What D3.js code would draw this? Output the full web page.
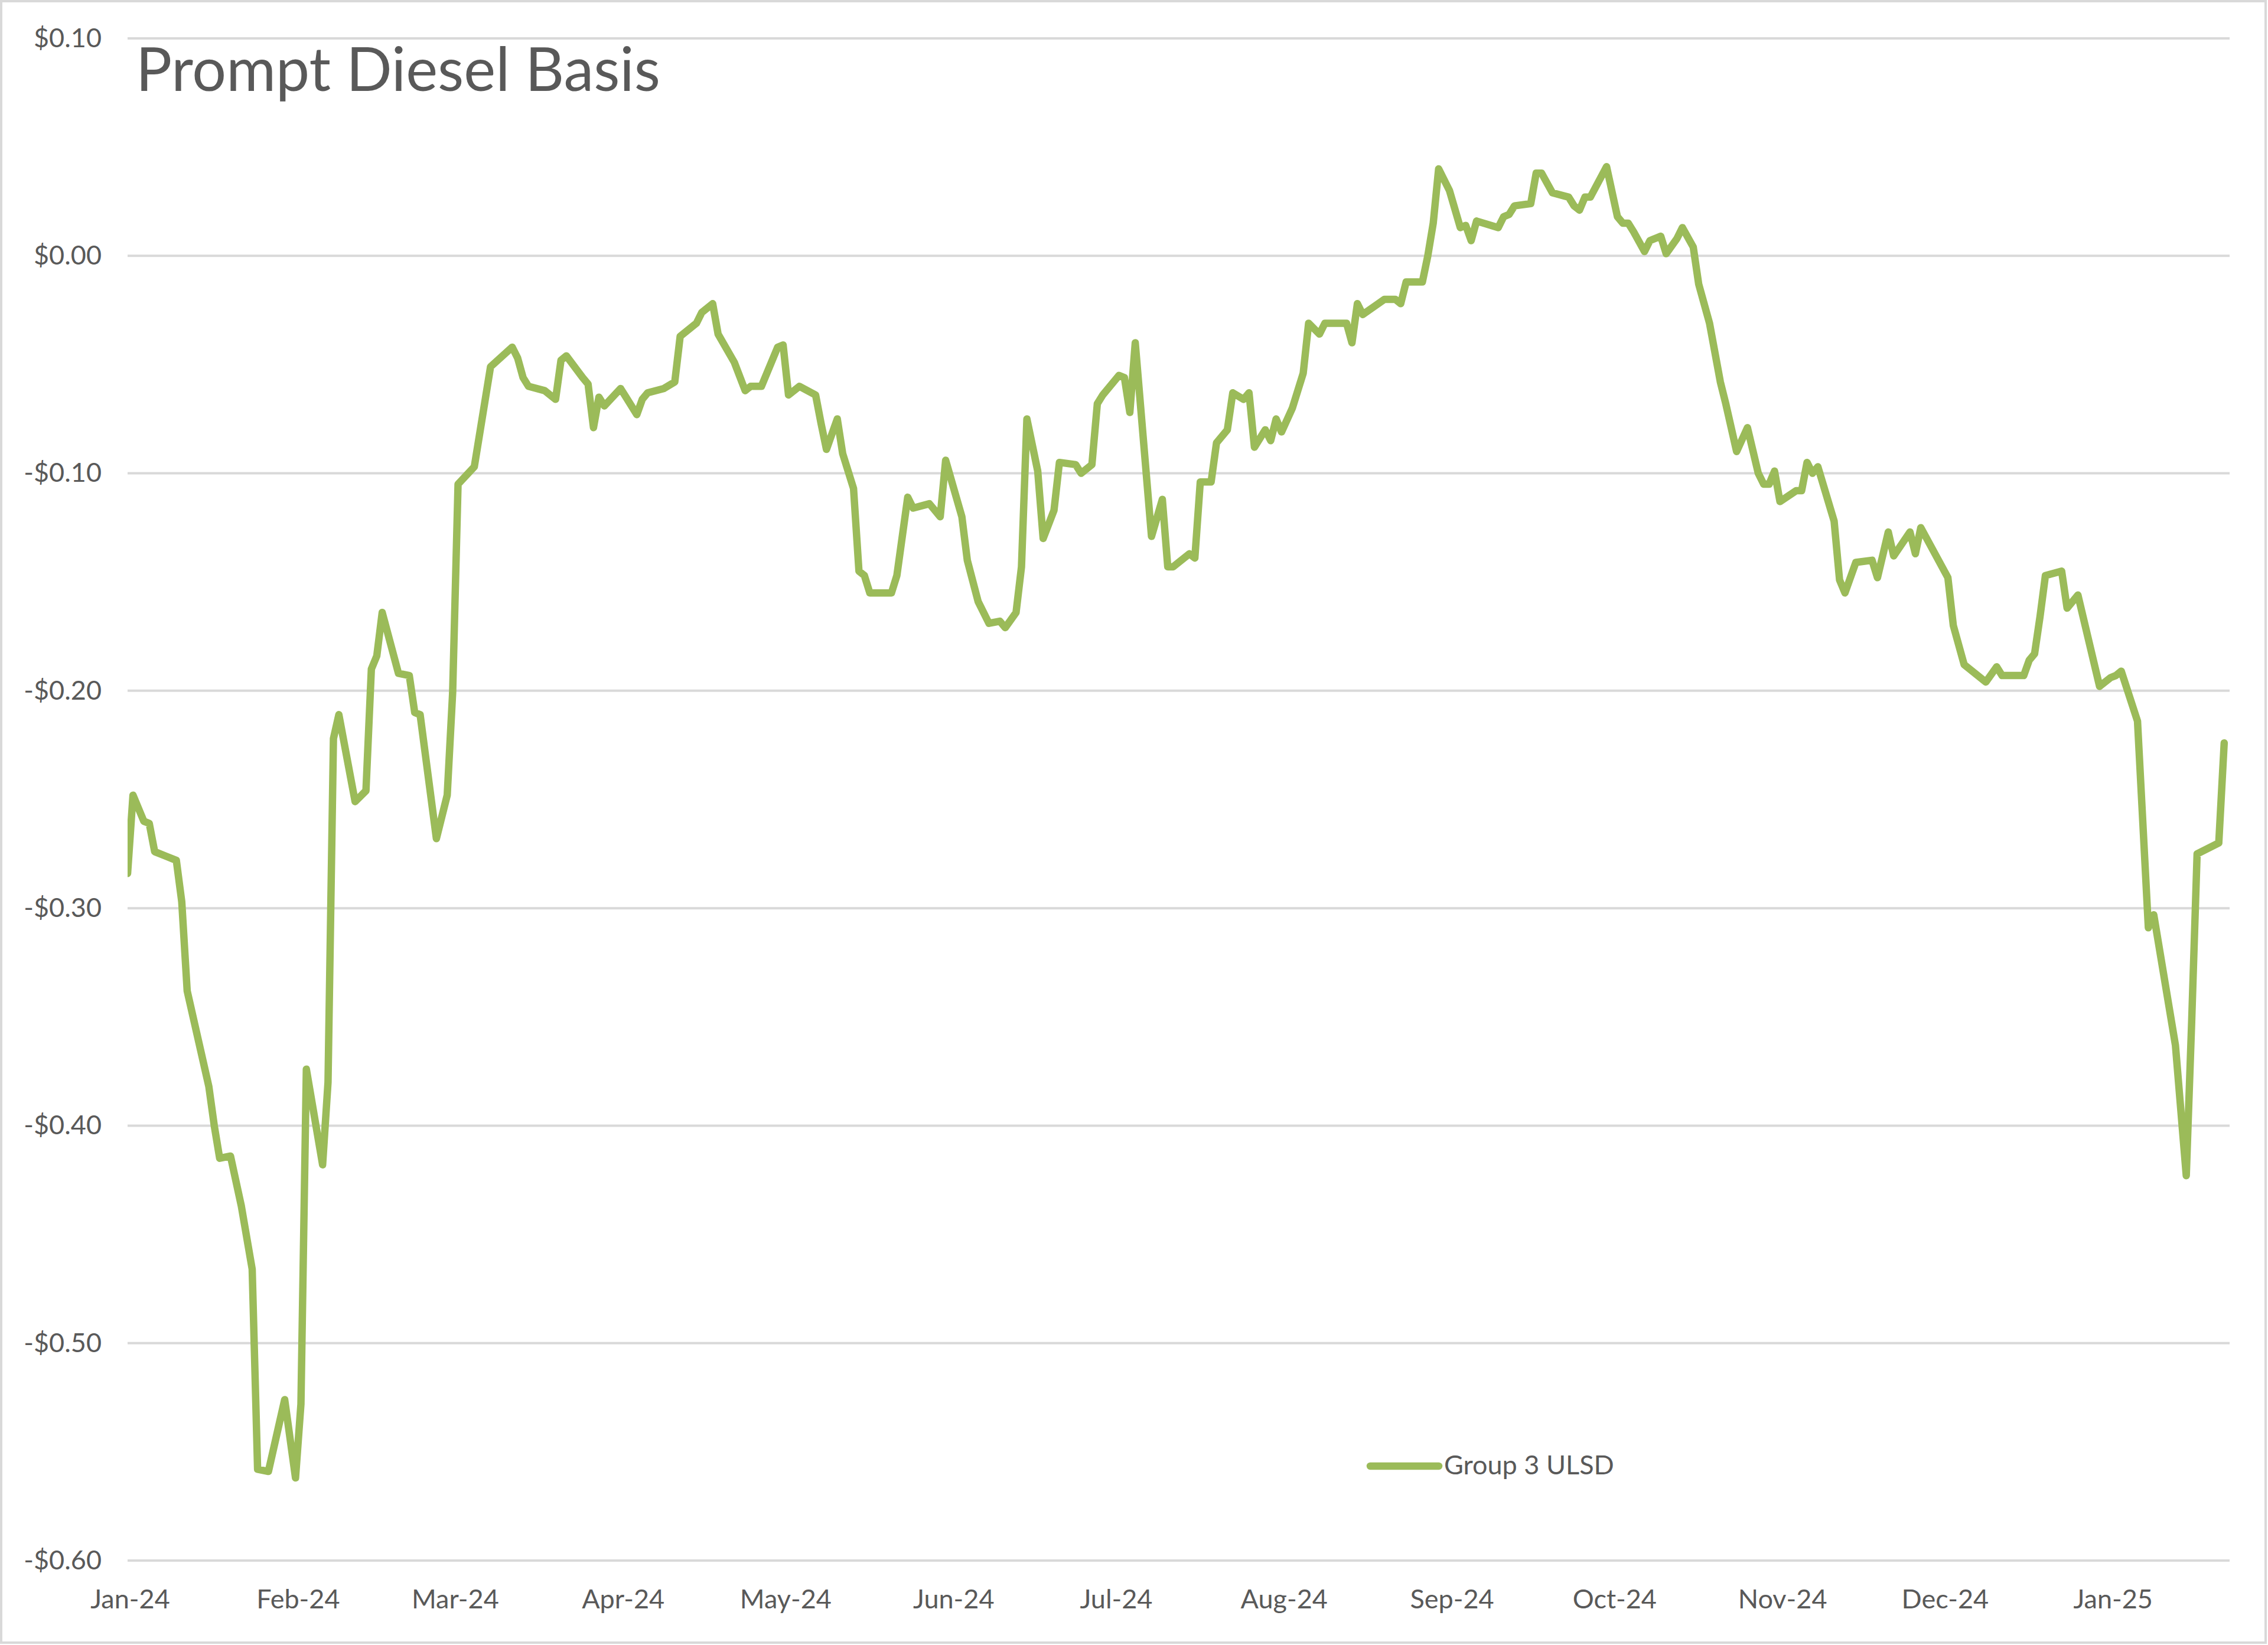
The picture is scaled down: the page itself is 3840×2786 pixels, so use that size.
<!DOCTYPE html>
<html><head><meta charset="utf-8">
<script src="https://cdn.jsdelivr.net/npm/d3@7"></script>
<style>
html,body{margin:0;padding:0;background:#fff;}
svg{display:block;}
</style></head><body>
<svg id="chart" width="3840" height="2786"></svg>
<script>
// ---------------- data ----------------
const chartTitle = "Prompt Diesel Basis";
const seriesName = "Group 3 ULSD";

const dates = [
"2024-01-01","2024-01-02","2024-01-04","2024-01-05","2024-01-06","2024-01-08","2024-01-10","2024-01-11","2024-01-12","2024-01-16",
"2024-01-17","2024-01-18","2024-01-20","2024-01-22","2024-01-24","2024-01-25","2024-01-27","2024-01-30","2024-02-01","2024-02-02",
"2024-02-03","2024-02-06","2024-02-07","2024-02-08","2024-02-09","2024-02-12","2024-02-14","2024-02-15","2024-02-16","2024-02-17",
"2024-02-20","2024-02-22","2024-02-23","2024-02-24","2024-02-27","2024-02-29","2024-03-01","2024-03-02","2024-03-05","2024-03-08",
"2024-03-12","2024-03-13","2024-03-14","2024-03-15","2024-03-18","2024-03-20","2024-03-21","2024-03-22","2024-03-25","2024-03-26",
"2024-03-27","2024-03-28","2024-03-29","2024-04-01","2024-04-02","2024-04-04","2024-04-05","2024-04-06","2024-04-09","2024-04-11",
"2024-04-12","2024-04-15","2024-04-16","2024-04-18","2024-04-19","2024-04-22","2024-04-24","2024-04-25","2024-04-27","2024-04-30",
"2024-05-01","2024-05-02","2024-05-04","2024-05-07","2024-05-08","2024-05-09","2024-05-11","2024-05-12","2024-05-14","2024-05-15",
"2024-05-16","2024-05-17","2024-05-21","2024-05-22","2024-05-24","2024-05-25","2024-05-28","2024-05-30","2024-05-31","2024-06-03",
"2024-06-04","2024-06-06","2024-06-08","2024-06-10","2024-06-11","2024-06-13","2024-06-14","2024-06-15","2024-06-17","2024-06-18",
"2024-06-20","2024-06-21","2024-06-24","2024-06-25","2024-06-27","2024-06-28","2024-06-29","2024-07-02","2024-07-03","2024-07-04",
"2024-07-05","2024-07-08","2024-07-10","2024-07-11","2024-07-12","2024-07-15","2024-07-16","2024-07-17","2024-07-19","2024-07-20",
"2024-07-22","2024-07-23","2024-07-25","2024-07-26","2024-07-27","2024-07-29","2024-07-30","2024-07-31","2024-08-01","2024-08-03",
"2024-08-05","2024-08-06","2024-08-08","2024-08-09","2024-08-13","2024-08-14","2024-08-15","2024-08-16","2024-08-20","2024-08-22",
"2024-08-23","2024-08-24","2024-08-27","2024-08-28","2024-08-29","2024-08-30","2024-09-01","2024-09-03","2024-09-04","2024-09-05",
"2024-09-06","2024-09-10","2024-09-11","2024-09-12","2024-09-13","2024-09-16","2024-09-17","2024-09-18","2024-09-20","2024-09-23",
"2024-09-24","2024-09-25","2024-09-26","2024-09-27","2024-09-30","2024-10-02","2024-10-03","2024-10-04","2024-10-05","2024-10-07",
"2024-10-08","2024-10-09","2024-10-10","2024-10-11","2024-10-13","2024-10-14","2024-10-16","2024-10-17","2024-10-19","2024-10-21",
"2024-10-22","2024-10-24","2024-10-26","2024-10-28","2024-10-29","2024-10-30","2024-10-31","2024-11-01","2024-11-04","2024-11-05",
"2024-11-06","2024-11-07","2024-11-08","2024-11-11","2024-11-12","2024-11-13","2024-11-15","2024-11-18","2024-11-19","2024-11-21",
"2024-11-22","2024-11-25","2024-11-26","2024-11-27","2024-12-02","2024-12-03","2024-12-05","2024-12-09","2024-12-11","2024-12-12",
"2024-12-16","2024-12-17","2024-12-18","2024-12-19","2024-12-20","2024-12-23","2024-12-24","2024-12-26","2024-12-30","2025-01-01",
"2025-01-02","2025-01-03","2025-01-06","2025-01-08","2025-01-09","2025-01-13","2025-01-15","2025-01-16","2025-01-17","2025-01-21",
"2025-01-22"
];

const values = [
-0.284,-0.248,-0.260,-0.261,-0.274,-0.276,-0.278,-0.297,-0.338,-0.382,
-0.400,-0.415,-0.414,-0.437,-0.466,-0.558,-0.559,-0.526,-0.562,-0.528,
-0.374,-0.418,-0.380,-0.222,-0.211,-0.251,-0.246,-0.190,-0.184,-0.164,
-0.192,-0.193,-0.210,-0.211,-0.268,-0.248,-0.201,-0.105,-0.097,-0.051,
-0.042,-0.047,-0.056,-0.060,-0.062,-0.066,-0.048,-0.046,-0.056,-0.059,
-0.079,-0.065,-0.069,-0.061,-0.065,-0.073,-0.066,-0.063,-0.061,-0.058,
-0.037,-0.031,-0.026,-0.022,-0.036,-0.049,-0.062,-0.060,-0.060,-0.042,
-0.041,-0.064,-0.060,-0.064,-0.077,-0.089,-0.075,-0.091,-0.107,-0.145,
-0.147,-0.155,-0.155,-0.147,-0.111,-0.116,-0.114,-0.120,-0.094,-0.120,
-0.140,-0.159,-0.169,-0.168,-0.171,-0.164,-0.143,-0.075,-0.099,-0.130,
-0.117,-0.095,-0.096,-0.100,-0.096,-0.068,-0.064,-0.055,-0.056,-0.072,
-0.040,-0.129,-0.112,-0.143,-0.143,-0.137,-0.139,-0.104,-0.104,-0.086,
-0.080,-0.063,-0.066,-0.063,-0.088,-0.080,-0.085,-0.075,-0.081,-0.070,
-0.054,-0.031,-0.036,-0.031,-0.031,-0.040,-0.022,-0.027,-0.020,-0.020,
-0.022,-0.012,-0.012,0.000,0.015,0.040,0.030,0.013,0.014,0.007,
0.016,0.013,0.018,0.019,0.023,0.024,0.038,0.038,0.029,0.027,
0.023,0.021,0.027,0.027,0.041,0.018,0.015,0.015,0.011,0.002,
0.007,0.008,0.009,0.001,0.008,0.013,0.004,-0.013,-0.031,-0.058,
-0.068,-0.090,-0.079,-0.100,-0.105,-0.105,-0.099,-0.113,-0.108,-0.108,
-0.095,-0.100,-0.097,-0.122,-0.149,-0.155,-0.141,-0.140,-0.148,-0.127,
-0.138,-0.127,-0.137,-0.125,-0.148,-0.170,-0.188,-0.196,-0.189,-0.193,
-0.193,-0.186,-0.183,-0.166,-0.147,-0.145,-0.162,-0.156,-0.198,-0.194,
-0.193,-0.191,-0.214,-0.309,-0.303,-0.363,-0.423,-0.352,-0.275,-0.270,
-0.224
];

const yTicks = [0.10, 0.00, -0.10, -0.20, -0.30, -0.40, -0.50, -0.60];
const xTickDates = ["2024-01-01","2024-02-01","2024-03-01","2024-04-01","2024-05-01","2024-06-01",
  "2024-07-01","2024-08-01","2024-09-01","2024-10-01","2024-11-01","2024-12-01","2025-01-01"];
const xDomain = ["2024-01-01","2025-01-23"];
const yDomain = [-0.60, 0.10];

// ---------------- drawing ----------------
const W = 3840, H = 2786;
const plot = {left: 216, right: 3775, top: 65, bottom: 2643};
const FONT = "Lato, 'Open Sans', 'Noto Sans', sans-serif";
const TEXT = "#595959";
const GRID = "#d9d9d9";
const LINE = "#9BBB59";

const parse = d3.timeParse("%Y-%m-%d");
const data = dates.map((d, i) => ({date: parse(d), value: values[i]}));

const x = d3.scaleTime().domain(xDomain.map(parse)).range([plot.left, plot.right]);
const y = d3.scaleLinear().domain(yDomain).range([plot.bottom, plot.top]);

const svg = d3.select("#chart");
svg.append("rect").attr("width", W).attr("height", H).attr("fill", "#fff");
svg.append("rect").attr("x", 2).attr("y", 2).attr("width", W - 6).attr("height", H - 6)
  .attr("fill", "none").attr("stroke", GRID).attr("stroke-width", 4);

// gridlines
svg.append("g").selectAll("line").data(yTicks).join("line")
  .attr("x1", plot.left).attr("x2", plot.right)
  .attr("y1", d => y(d)).attr("y2", d => y(d))
  .attr("stroke", GRID).attr("stroke-width", 4);

// y axis
const fmt = d => (d < -1e-9 ? "-" : "") + "$" + Math.abs(d).toFixed(2);
const yAxis = svg.append("g").attr("transform", `translate(${plot.left},0)`)
  .call(d3.axisLeft(y).tickValues(yTicks).tickFormat(fmt).tickSize(0).tickPadding(44));
yAxis.select(".domain").remove();
yAxis.selectAll("text").attr("font-family", FONT).attr("font-size", 45).attr("fill", TEXT);

// x axis
const xAxis = svg.append("g").attr("transform", `translate(0,${plot.bottom})`)
  .call(d3.axisBottom(x).tickValues(xTickDates.map(parse)).tickFormat(d3.timeFormat("%b-%y")).tickSize(0).tickPadding(49));
xAxis.select(".domain").remove();
xAxis.selectAll("text").attr("font-family", FONT).attr("font-size", 45).attr("fill", TEXT)
  .attr("dx", 4);

// clip
svg.append("defs").append("clipPath").attr("id", "plotclip")
  .append("rect").attr("x", plot.left).attr("y", 0).attr("width", plot.right - plot.left).attr("height", H);

// series line
const line = d3.line().x(d => x(d.date)).y(d => y(d.value));
svg.append("path").datum(data)
  .attr("clip-path", "url(#plotclip)")
  .attr("d", line)
  .attr("fill", "none").attr("stroke", LINE).attr("stroke-width", 12.5)
  .attr("stroke-linejoin", "round").attr("stroke-linecap", "round");

// title
const t = svg.append("text").attr("x", 230).attr("y", 154)
  .attr("font-family", FONT).attr("font-size", 102).attr("fill", TEXT).text(chartTitle);
const tl = t.node().getComputedTextLength();
if (Math.abs(tl - 893) / 893 > 0.02) t.attr("textLength", 893).attr("lengthAdjust", "spacingAndGlyphs");

// legend
const lg = svg.append("g");
lg.append("line").attr("x1", 2320).attr("x2", 2436).attr("y1", 2483).attr("y2", 2483)
  .attr("stroke", LINE).attr("stroke-width", 12.5).attr("stroke-linecap", "round");
const lt = lg.append("text").attr("x", 2445).attr("y", 2497)
  .attr("font-family", FONT).attr("font-size", 45).attr("fill", TEXT).text(seriesName);
const ll = lt.node().getComputedTextLength();
if (Math.abs(ll - 282) / 282 > 0.03) lt.attr("textLength", 282).attr("lengthAdjust", "spacingAndGlyphs");
</script>
</body></html>
